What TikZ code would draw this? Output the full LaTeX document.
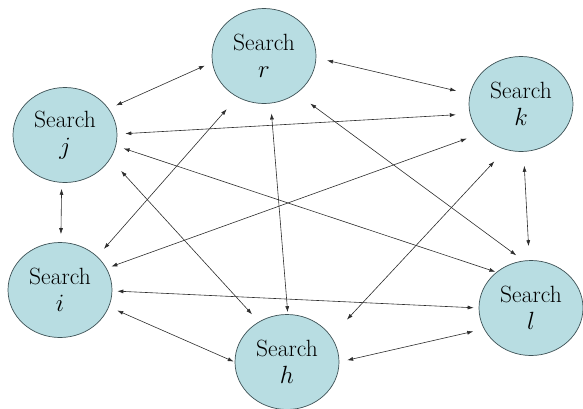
\documentclass[tikz,border=0pt]{standalone}
\usepackage{tikz}
\usetikzlibrary{shapes.geometric}
\usetikzlibrary{arrows.meta}

\definecolor{searchfill}{RGB}{184,221,226}
\definecolor{searchline}{RGB}{62,82,86}
\definecolor{linkline}{RGB}{45,45,45}

\begin{document}
\begin{tikzpicture}[x=1pt, y=-1pt,
  search/.style={ellipse, draw=searchline, fill=searchfill, line width=0.7pt,
    minimum width=104pt, minimum height=95pt, inner sep=0pt, align=center,
    font=\fontsize{23.5}{27}\selectfont},
  link/.style={draw=linkline, line width=0.6pt, {Latex[length=6pt,width=4pt]}-{Latex[length=6pt,width=4pt]},
    shorten <=8pt, shorten >=8pt}]
\useasboundingbox (0,0) rectangle (583,408);
\node[search] (r) at (264, 56) {Search\\$r$};
\node[search] (j) at (65, 135) {Search\\$j$};
\node[search] (k) at (521, 104) {Search\\$k$};
\node[search] (i) at (60, 290) {Search\\$i$};
\node[search] (h) at (287, 362) {Search\\$h$};
\node[search] (l) at (531, 308) {Search\\$l$};
\draw[link] (j.31) -- (r.187);
\draw[link, shorten >=14pt] (j.1) -- (k.191);
\draw[link, shorten >=1pt] (j.-12) -- (l.134);
\draw[link, shorten <=16pt, shorten >=10pt] (j.-28) -- (h.125);
\draw[link, shorten <=10pt, shorten >=16pt] (i.42) -- (r.237);
\draw[link, shorten <=10pt, shorten >=2pt] (r.-82) -- (h.89);
\draw[link, shorten <=17pt, shorten >=9pt] (r.-49) -- (l.99);
\draw[link, shorten <=14pt, shorten >=14pt] (k.-87) -- (l.92);
\draw[link, shorten <=14pt, shorten >=5pt] (k.216) -- (i.25);
\draw[link, shorten <=16pt, shorten >=23pt] (k.251) -- (h.30);
\draw[link, shorten <=5pt, shorten >=5pt] (i.-1) -- (l.180);
\draw[link, shorten <=9pt, shorten >=1pt] (i.-19) -- (h.180);
\draw[link, shorten >=11pt] (h.0) -- (l.204);
\draw[link, shorten <=6pt, shorten >=8pt] (j.-94) -- (i.89);
\draw[link, shorten <=11pt, shorten >=14pt] (r.-2) -- (k.169);
\end{tikzpicture}
\end{document}
